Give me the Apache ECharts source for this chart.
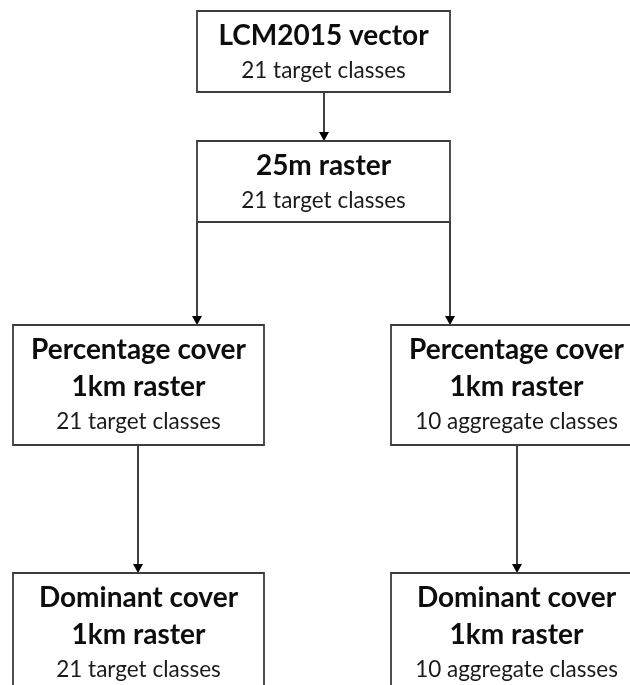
<!DOCTYPE html>
<html><head><meta charset="utf-8">
<script src="https://cdn.jsdelivr.net/npm/echarts@6/dist/echarts.min.js"></script>
<style>html,body{margin:0;padding:0;background:#fff}#c{width:630px;height:685px}</style>
</head><body><div id="c"></div>
<script>
// Flowchart content
const nodeTitles = ['LCM2015 vector', '25m raster', 'Percentage cover\n1km raster', 'Percentage cover\n1km raster', 'Dominant cover\n1km raster', 'Dominant cover\n1km raster'];
const nodeSubtitles = ['21 target classes', '21 target classes', '21 target classes', '10 aggregate classes', '21 target classes', '10 aggregate classes'];
// Layout in axis units (x: 0-630, y: 0-685 downward)
const nodeLeft = [197, 197, 13, 391, 13, 391];
const nodeTop = [11, 141, 325, 325, 573, 573];
const nodeRight = [450, 450, 264, 642, 264, 642];
const nodeBottom = [92, 222, 445, 445, 693, 693];
// Connectors: x, start y, end y (arrow tip)
const edgeX = [324, 197, 450, 138, 517];
const edgeStartY = [92, 222, 222, 445, 445];
const edgeEndY = [141, 325, 325, 573, 573];

const FONT = 'Lato, "Open Sans", sans-serif';
const nodeData = nodeTitles.map((t, i) => [nodeLeft[i], nodeTop[i], nodeRight[i], nodeBottom[i]]);
const edgeData = edgeX.map((x, i) => [x, edgeStartY[i], edgeEndY[i]]);

const chart = echarts.init(document.getElementById('c'), null, {renderer: 'canvas'});
chart.setOption({
  animation: false,
  backgroundColor: '#ffffff',
  grid: {left: 0, right: 0, top: 0, bottom: 0},
  xAxis: {type: 'value', min: 0, max: 630, show: false},
  yAxis: {type: 'value', min: 0, max: 685, inverse: true, show: false},
  series: [
    {
      type: 'custom',
      coordinateSystem: 'cartesian2d',
      clip: false,
      data: edgeData,
      renderItem: function (params, api) {
        const a = api.coord([api.value(0), api.value(1)]);
        const b = api.coord([api.value(0), api.value(2)]);
        const ah = 9, aw = 5;
        return {
          type: 'group',
          children: [
            {type: 'line', shape: {x1: a[0], y1: a[1], x2: b[0], y2: b[1] - ah + 1},
             style: {stroke: '#000', lineWidth: 1.5}},
            {type: 'polygon', shape: {points: [[b[0] - aw, b[1] - ah], [b[0] + aw, b[1] - ah], [b[0], b[1]]]},
             style: {fill: '#000'}}
          ]
        };
      }
    },
    {
      type: 'custom',
      coordinateSystem: 'cartesian2d',
      clip: false,
      data: nodeData,
      renderItem: function (params, api) {
        const i = params.dataIndex;
        const p0 = api.coord([api.value(0), api.value(1)]);
        const p1 = api.coord([api.value(2), api.value(3)]);
        const x = p0[0], y = p0[1], w = p1[0] - p0[0], h = p1[1] - p0[1];
        const cx = x + w / 2;
        const lines = nodeTitles[i].split('\n');
        const children = [
          {type: 'rect', shape: {x: x, y: y, width: w, height: h},
           style: {fill: '#fff', stroke: '#3c3c3c', lineWidth: 1.8}}
        ];
        lines.forEach((t, k) => {
          children.push({type: 'text', x: cx, y: y + 25 + 37 * k,
            style: {text: t, textAlign: 'center', textVerticalAlign: 'middle',
              font: 'bold 28px ' + FONT, fill: '#0d0d0d'}});
        });
        children.push({type: 'text', x: cx, y: y + 23 + 37 * lines.length,
          style: {text: nodeSubtitles[i], textAlign: 'center', textVerticalAlign: 'middle',
            font: '22.5px ' + FONT, fill: '#1a1a1a'}});
        return {type: 'group', children: children};
      }
    }
  ]
});
</script></body></html>
